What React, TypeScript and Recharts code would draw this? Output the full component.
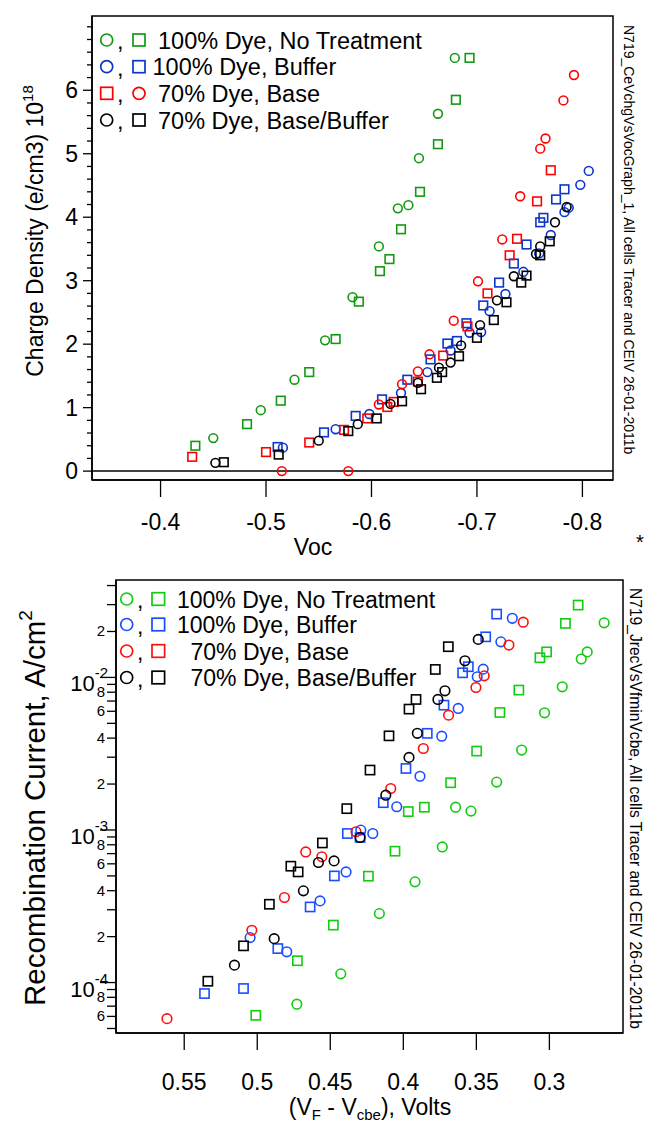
import React from "react";
import { ScatterChart, Scatter, XAxis, YAxis, ReferenceLine, ReferenceArea, Label } from "recharts";

const FONT = "'Liberation Sans', Arial, Helvetica, sans-serif";

// ---------- top panel: charge density (1e18 e/cm3) vs Voc ----------
const chgNoTreatCirc = [
  [-0.45, 0.52], [-0.495, 0.96], [-0.527, 1.44], [-0.556, 2.06], [-0.582, 2.74], [-0.607, 3.54],
  [-0.625, 4.14], [-0.635, 4.19], [-0.645, 4.93], [-0.663, 5.63], [-0.679, 6.51],
];
const chgNoTreatSq = [
  [-0.433, 0.4], [-0.482, 0.74], [-0.514, 1.11], [-0.541, 1.56], [-0.566, 2.08], [-0.588, 2.67],
  [-0.608, 3.15], [-0.617, 3.34], [-0.628, 3.81], [-0.646, 4.4], [-0.663, 5.15], [-0.68, 5.85], [-0.693, 6.51],
];
const chgBufferCirc = [
  [-0.516, 0.37], [-0.566, 0.66], [-0.598, 0.9], [-0.628, 1.23], [-0.653, 1.56], [-0.675, 1.9],
  [-0.693, 2.18], [-0.704, 2.19], [-0.712, 2.52], [-0.727, 2.79], [-0.744, 3.14], [-0.759, 3.43],
  [-0.77, 3.72], [-0.783, 4.08], [-0.787, 4.15], [-0.798, 4.51], [-0.806, 4.73],
];
const chgBufferSq = [
  [-0.511, 0.38], [-0.555, 0.61], [-0.585, 0.87], [-0.61, 1.13], [-0.634, 1.44], [-0.656, 1.76],
  [-0.672, 2.01], [-0.681, 2.05], [-0.69, 2.33], [-0.706, 2.61], [-0.721, 2.97], [-0.735, 3.27],
  [-0.747, 3.57], [-0.76, 3.92], [-0.763, 3.99], [-0.775, 4.28], [-0.783, 4.44],
];
const chgBaseCirc = [
  [-0.515, 0], [-0.578, 0], [-0.607, 1.05], [-0.629, 1.37], [-0.644, 1.57], [-0.655, 1.84],
  [-0.678, 2.37], [-0.701, 2.99], [-0.724, 3.65], [-0.741, 4.33], [-0.76, 5.08], [-0.765, 5.24],
  [-0.782, 5.84], [-0.792, 6.24],
];
const chgBaseSq = [
  [-0.43, 0.225], [-0.5, 0.3], [-0.541, 0.45], [-0.574, 0.65], [-0.596, 0.83], [-0.615, 1.01],
  [-0.621, 1.09], [-0.644, 1.41], [-0.668, 1.82], [-0.691, 2.28], [-0.71, 2.8], [-0.731, 3.4],
  [-0.738, 3.66], [-0.757, 4.25], [-0.77, 4.74],
];
const chgBaseBufCirc = [
  [-0.452, 0.13], [-0.55, 0.48], [-0.587, 0.74], [-0.618, 1.06], [-0.644, 1.39], [-0.664, 1.63],
  [-0.675, 1.71], [-0.685, 1.98], [-0.703, 2.3], [-0.719, 2.69], [-0.735, 3.07], [-0.756, 3.42],
  [-0.76, 3.54], [-0.774, 3.92], [-0.785, 4.16],
];
const chgBaseBufSq = [
  [-0.46, 0.14], [-0.512, 0.26], [-0.578, 0.63], [-0.605, 0.83], [-0.629, 1.1], [-0.647, 1.29],
  [-0.662, 1.47], [-0.667, 1.56], [-0.683, 1.81], [-0.7, 2.1], [-0.716, 2.38], [-0.728, 2.66],
  [-0.742, 2.97], [-0.747, 3.08], [-0.76, 3.4], [-0.769, 3.62],
];
const chgXTicks = [-0.4, -0.5, -0.6, -0.7, -0.8];
const chgYMajor = [0, 1, 2, 3, 4, 5, 6];
const chgXDomain = [-0.829, -0.335];
const chgYDomain = [-0.14, 7.17];

// ---------- bottom panel: recombination current (A/cm2) vs VF - Vcbe ----------
const jrecNoTreatCirc = [
  [0.2625, 0.0228], [0.2741, 0.0147], [0.2782, 0.0132], [0.2912, 0.00868], [0.3033, 0.00586],
  [0.319, 0.00334], [0.3361, 0.00206], [0.3537, 0.00133], [0.3642, 0.00141], [0.3733, 0.000774],
  [0.392, 0.000457], [0.4164, 0.000283], [0.4428, 0.000114], [0.4729, 0.0000721],
];
const jrecNoTreatSq = [
  [0.2803, 0.0298], [0.289, 0.0226], [0.3019, 0.0147], [0.3065, 0.01346], [0.3209, 0.00826],
  [0.3339, 0.00589], [0.3498, 0.00329], [0.3676, 0.00204], [0.3856, 0.00141], [0.3966, 0.00132],
  [0.4057, 0.000726], [0.4239, 0.000498], [0.4479, 0.000238], [0.4725, 0.000139], [0.501, 0.000061],
];
const jrecBufferCirc = [
  [0.3254, 0.0244], [0.3332, 0.0171], [0.3453, 0.01133], [0.3494, 0.01009], [0.3624, 0.00626],
  [0.3737, 0.00412], [0.3886, 0.00225], [0.4045, 0.00142], [0.4209, 0.000948], [0.4291, 0.000998],
  [0.4392, 0.000531], [0.457, 0.000343], [0.4798, 0.000159], [0.5049, 0.000197],
];
const jrecBufferSq = [
  [0.3361, 0.026], [0.3436, 0.01845], [0.3555, 0.01175], [0.3594, 0.01072], [0.3722, 0.00658],
  [0.3836, 0.0043], [0.3982, 0.00253], [0.4137, 0.00151], [0.4296, 0.000893], [0.4383, 0.000948],
  [0.4472, 0.0005], [0.4638, 0.000313], [0.4859, 0.000167], [0.5094, 0.0000914], [0.5361, 0.0000847],
];
const jrecBaseCirc = [
  [0.3179, 0.023], [0.3277, 0.0163], [0.3446, 0.01024], [0.3503, 0.00859], [0.369, 0.00566],
  [0.3863, 0.00342], [0.4086, 0.00187], [0.4324, 0.000973], [0.4558, 0.000667], [0.4668, 0.000718],
  [0.4814, 0.000361], [0.5037, 0.00022], [0.5618, 0.000058],
];
const jrecBaseBufCirc = [
  [0.3487, 0.01775], [0.3578, 0.01285], [0.3715, 0.00817], [0.3763, 0.00717], [0.3904, 0.0043],
  [0.3961, 0.00299], [0.412, 0.00169], [0.4296, 0.000893], [0.4474, 0.000627], [0.4581, 0.000612],
  [0.4684, 0.000399], [0.4884, 0.000194], [0.5156, 0.00013],
];
const jrecBaseBufSq = [
  [0.3692, 0.0159], [0.3781, 0.01128], [0.3913, 0.00717], [0.3961, 0.0062], [0.4098, 0.00414],
  [0.4228, 0.00247], [0.4387, 0.00138], [0.4554, 0.000822], [0.472, 0.000531], [0.477, 0.000579],
  [0.4917, 0.000326], [0.5094, 0.000174], [0.5338, 0.000102],
];
const jrecXTicks = [0.55, 0.5, 0.45, 0.4, 0.35, 0.3];
const jrecMajor = [1e-4, 1e-3, 1e-2];
const jrecMinorLabeled = [6e-5, 8e-5, 2e-4, 4e-4, 6e-4, 8e-4, 2e-3, 4e-3, 6e-3, 8e-3, 2e-2];
const jrecMinorPlain = [5e-5, 7e-5, 9e-5, 3e-4, 5e-4, 7e-4, 9e-4, 3e-3, 5e-3, 7e-3, 9e-3, 3e-2, 4e-2];
const jrecXDomain = [0.2496, 0.5967];
const jrecYDomain = [4.67e-5, 0.0435];

const legendLabels = ["100% Dye, No Treatment", "100% Dye, Buffer", "70% Dye, Base", "70% Dye, Base/Buffer"];

const TOP = { green: "#119a11", blue: "#0a36cc", red: "#ff0000", black: "#000" };
const BOT = { green: "#11cc11", blue: "#1a4dff", red: "#ff0f0f", black: "#000" };

const pts = (a: number[][]) => a.map(([x, y]) => ({ x, y }));

const ring = (color: string, r: number) => (p: any) => (
  <circle cx={p.cx} cy={p.cy} r={r} fill="none" stroke={color} strokeWidth={1.6} />
);
const box = (color: string, s: number) => (p: any) => (
  <rect x={p.cx - s / 2} y={p.cy - s / 2} width={s} height={s} fill="none" stroke={color} strokeWidth={1.6} />
);

const near = (list: number[], v: number) => list.some((t) => Math.abs(t - v) < Math.abs(v) * 1e-6 + 1e-9);

const chgYTicks: number[] = [];
for (let k = 0; k <= 35; k++) chgYTicks.push(Math.round(k * 2) / 10);

function ChgYTick(p: any) {
  const v = p.payload.value;
  const major = near(chgYMajor, v);
  return (
    <g>
      <line x1={p.x - (major ? 9 : 5)} x2={p.x} y1={p.y} y2={p.y} stroke="#000" strokeWidth={1.3} />
      {major && (
        <text x={p.x - 14} y={p.y + 8} textAnchor="end" fontSize={23} fontFamily={FONT} fill="#000">
          {v}
        </text>
      )}
    </g>
  );
}

function JrecYTick(p: any) {
  const v = p.payload.value;
  const major = near(jrecMajor, v);
  const labeled = near(jrecMinorLabeled, v);
  const e = Math.round(Math.log10(v));
  const m = Math.round(v / Math.pow(10, Math.floor(Math.log10(v) + 1e-9)));
  return (
    <g>
      <line x1={p.x - (major ? 16 : 9)} x2={p.x} y1={p.y} y2={p.y} stroke="#000" strokeWidth={1.3} />
      {major && (
        <text x={p.x - 8} y={p.y + 14} textAnchor="end" fontSize={22} fontFamily={FONT} fill="#000">
          10<tspan dy={-13} fontSize={15}>{e}</tspan>
        </text>
      )}
      {labeled && (
        <text x={p.x - 11} y={p.y + 5} textAnchor="end" fontSize={15} fontFamily={FONT} fill="#000">
          {m}
        </text>
      )}
    </g>
  );
}

function LegendMarker({ kind, color, x, y, r }: any) {
  return kind === "c" ? (
    <circle cx={x} cy={y} r={r} fill="none" stroke={color} strokeWidth={1.7} />
  ) : (
    <rect x={x - r} y={y - r} width={2 * r} height={2 * r} fill="none" stroke={color} strokeWidth={1.7} />
  );
}

function Overlay() {
  const topRows = [
    { y: 40, a: "c", b: "s", color: TOP.green, tx: 158 },
    { y: 66.7, a: "c", b: "s", color: TOP.blue, tx: 152.5 },
    { y: 93.3, a: "s", b: "c", color: TOP.red, tx: 158 },
    { y: 120, a: "c", b: "s", color: TOP.black, tx: 158 },
  ];
  const botRows = [
    { y: 599, color: BOT.green, tx: 177 },
    { y: 624.5, color: BOT.blue, tx: 177 },
    { y: 651, color: BOT.red, tx: 190.5 },
    { y: 677.5, color: BOT.black, tx: 190.5 },
  ];
  return (
    <svg width={650} height={1122} style={{ position: "absolute", left: 0, top: 0, pointerEvents: "none" }} fontFamily={FONT}>
      {topRows.map((r, i) => (
        <g key={i}>
          <LegendMarker kind={r.a} color={r.color} x={106.7} y={r.y} r={6} />
          <text x={117} y={r.y + 9} fontSize={23.5}>,</text>
          <LegendMarker kind={r.b} color={r.color} x={139} y={r.y} r={6} />
          <text x={r.tx} y={r.y + 8.5} fontSize={23.5}>{legendLabels[i]}</text>
        </g>
      ))}
      {botRows.map((r, i) => (
        <g key={i}>
          <LegendMarker kind="c" color={r.color} x={126.7} y={r.y} r={6} />
          <text x={137} y={r.y + 9} fontSize={23}>,</text>
          <LegendMarker kind="s" color={r.color} x={158.3} y={r.y} r={6.3} />
          <text x={r.tx} y={r.y + 8.5} fontSize={23}>{legendLabels[i]}</text>
        </g>
      ))}
      <text transform="rotate(90 624 25)" x={624} y={25} fontSize={14}>
        N719_CeVchgVsVocGraph_1, All cells Tracer and CEIV 26-01-2011b
      </text>
      <text x={636} y={549} fontSize={20}>*</text>
      <text transform="rotate(90 630 588)" x={630} y={588} fontSize={15.6}>
        N719_JrecVsVfminVcbe, All cells Tracer and CEIV 26-01-2011b
      </text>
    </svg>
  );
}

export default function App() {
  const topSeries = [
    { d: chgNoTreatCirc, s: ring(TOP.green, 4.4) },
    { d: chgNoTreatSq, s: box(TOP.green, 8.6) },
    { d: chgBufferCirc, s: ring(TOP.blue, 4.4) },
    { d: chgBufferSq, s: box(TOP.blue, 8.6) },
    { d: chgBaseCirc, s: ring(TOP.red, 4.4) },
    { d: chgBaseSq, s: box(TOP.red, 8.6) },
    { d: chgBaseBufCirc, s: ring(TOP.black, 4.4) },
    { d: chgBaseBufSq, s: box(TOP.black, 8.6) },
  ];
  const botSeries = [
    { d: jrecNoTreatCirc, s: ring(BOT.green, 4.8) },
    { d: jrecNoTreatSq, s: box(BOT.green, 9.2) },
    { d: jrecBufferCirc, s: ring(BOT.blue, 4.8) },
    { d: jrecBufferSq, s: box(BOT.blue, 9.2) },
    { d: jrecBaseCirc, s: ring(BOT.red, 4.8) },
    { d: jrecBaseBufCirc, s: ring(BOT.black, 4.8) },
    { d: jrecBaseBufSq, s: box(BOT.black, 9.2) },
  ];
  const tickFont = { fontSize: 23, fontFamily: FONT, fill: "#000" };

  return (
    <div style={{ position: "absolute", left: 0, top: 0, width: 650, height: 1122, background: "#fff", fontFamily: FONT }}>
      <div style={{ position: "absolute", left: 0, top: 0 }}>
        <ScatterChart width={650} height={560} margin={{ top: 16, right: 37, left: 0, bottom: 0 }}>
          <XAxis
            type="number" dataKey="x" domain={chgXDomain} allowDataOverflow reversed ticks={chgXTicks} interval={0}
            height={80} tickSize={17} tickMargin={17} tick={tickFont}
            axisLine={{ stroke: "#000", strokeWidth: 1.5 }} tickLine={{ stroke: "#000", strokeWidth: 1.3 }}
          >
            <Label content={() => (
              <text x={313} y={555} textAnchor="middle" fontSize={23} fontFamily={FONT} fill="#000">Voc</text>
            )} />
          </XAxis>
          <YAxis
            type="number" dataKey="y" domain={chgYDomain} allowDataOverflow ticks={chgYTicks} interval={0}
            width={92} tickSize={0} tickMargin={0} tickLine={false} tick={<ChgYTick />}
            axisLine={{ stroke: "#000", strokeWidth: 1.5 }}
          >
            <Label content={() => (
              <text transform="rotate(-90 43 231)" x={43} y={231} textAnchor="middle" fontSize={23} fontFamily={FONT} fill="#000">
                Charge Density (e/cm3) 10<tspan dy={-10} fontSize={15}>18</tspan>
              </text>
            )} />
          </YAxis>
          <ReferenceArea x1={chgXDomain[0]} x2={chgXDomain[1]} y1={chgYDomain[0]} y2={chgYDomain[1]}
            fill="none" stroke="#000" strokeWidth={1.5} ifOverflow="visible" />
          <ReferenceLine y={0} stroke="#000" strokeWidth={1.5} />
          {topSeries.map((s, i) => (
            <Scatter key={i} data={pts(s.d)} shape={s.s} isAnimationActive={false} />
          ))}
        </ScatterChart>
      </div>
      <div style={{ position: "absolute", left: 0, top: 560 }}>
        <ScatterChart width={650} height={562} margin={{ top: 20, right: 27, left: 0, bottom: 0 }}>
          <XAxis
            type="number" dataKey="x" domain={jrecXDomain} allowDataOverflow reversed ticks={jrecXTicks} interval={0}
            height={89} tickSize={17} tickMargin={24} tick={tickFont}
            axisLine={{ stroke: "#000", strokeWidth: 1.5 }} tickLine={{ stroke: "#000", strokeWidth: 1.3 }}
          >
            <Label content={() => (
              <text x={370} y={555} textAnchor="middle" fontSize={23} fontFamily={FONT} fill="#000">
                (V<tspan fontSize={15} dy={5}>F</tspan><tspan dy={-5}> - V</tspan>
                <tspan fontSize={15} dy={5}>cbe</tspan><tspan dy={-5}>), Volts</tspan>
              </text>
            )} />
          </XAxis>
          <YAxis
            type="number" dataKey="y" scale="log" domain={jrecYDomain} allowDataOverflow
            ticks={[...jrecMajor, ...jrecMinorLabeled, ...jrecMinorPlain].sort((a, b) => a - b)} interval={0}
            width={116} tickSize={0} tickMargin={0} tickLine={false} tick={<JrecYTick />}
            axisLine={{ stroke: "#000", strokeWidth: 1.5 }}
          >
            <Label content={() => (
              <text transform="rotate(-90 45 248)" x={45} y={248} textAnchor="middle" fontSize={29.5} fontFamily={FONT} fill="#000">
                Recombination Current,  A/cm<tspan dy={-13} fontSize={19}>2</tspan>
              </text>
            )} />
          </YAxis>
          <ReferenceArea x1={jrecXDomain[0]} x2={jrecXDomain[1]} y1={jrecYDomain[0]} y2={jrecYDomain[1]}
            fill="none" stroke="#000" strokeWidth={1.5} ifOverflow="visible" />
          {botSeries.map((s, i) => (
            <Scatter key={i} data={pts(s.d)} shape={s.s} isAnimationActive={false} />
          ))}
        </ScatterChart>
      </div>
      <Overlay />
    </div>
  );
}
